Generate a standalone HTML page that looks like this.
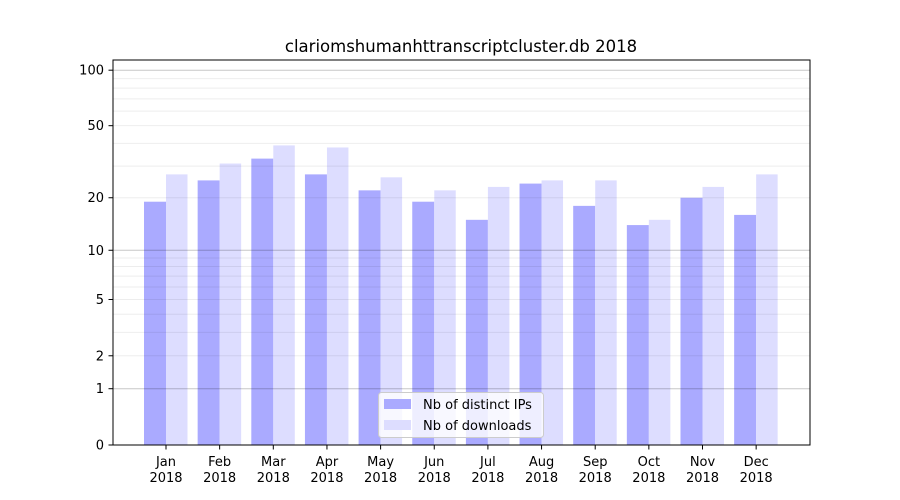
<!DOCTYPE html>
<html><head><meta charset="utf-8"><style>body{margin:0;background:#fff}svg{display:block}text{font-family:"DejaVu Sans","Liberation Sans",sans-serif;font-size:13px;fill:#000}</style></head><body>
<svg width="900" height="500" viewBox="0 0 900 500" xmlns="http://www.w3.org/2000/svg">
<rect width="900" height="500" fill="#fff"/>
<text x="461" y="52" text-anchor="middle" style="font-size:16.5px">clariomshumanhttranscriptcluster.db 2018</text>
<script>
const ns="http://www.w3.org/2000/svg";
const s=document.querySelector('svg');
function el(t,a,txt){const e=document.createElementNS(ns,t);for(const k in a)e.setAttribute(k,a[k]);if(txt!==undefined)e.textContent=txt;s.appendChild(e);return e;}
const Y=v=>445-187*Math.log10(1+v);
const ip=[19,25,33,27,22,19,15,24,18,14,20,16];
const dl=[27,31,39,38,26,22,23,25,25,15,23,27];
const m=["Jan","Feb","Mar","Apr","May","Jun","Jul","Aug","Sep","Oct","Nov","Dec"];
for(let i=0;i<12;i++){const c=166+53.65*i;
el('rect',{x:c-22,y:Y(ip[i]),width:22,height:445-Y(ip[i]),fill:'#aaaaff'});
el('rect',{x:c,y:Y(dl[i]),width:21.5,height:445-Y(dl[i]),fill:'#ddddff'});
el('line',{x1:c,x2:c,y1:445,y2:449.5,stroke:'#000','stroke-width':1});
el('text',{x:c,y:466,'text-anchor':'middle'},m[i]);
el('text',{x:c,y:482,'text-anchor':'middle'},'2018');}
[2,3,4,5,6,7,8,9,20,30,40,50,60,70,80,90].forEach(v=>el('line',{x1:113,x2:810,y1:Y(v),y2:Y(v),stroke:'#000','stroke-opacity':0.07,'stroke-width':1}));
[1,10,100].forEach(v=>el('line',{x1:113,x2:810,y1:Y(v),y2:Y(v),stroke:'#000','stroke-opacity':0.22,'stroke-width':1}));
[0,1,2,5,10,20,50,100].forEach(v=>{const y=Y(v);el('line',{x1:108.5,x2:113,y1:y,y2:y,stroke:'#000'});el('text',{x:104,y:y+4.5,'text-anchor':'end'},v);});
el('rect',{x:113,y:60,width:697,height:385,fill:'none',stroke:'#000','stroke-width':1});
el('rect',{x:378.5,y:392.5,width:165,height:45,rx:3,fill:'#fff','fill-opacity':0.8,stroke:'#ccc'});
el('rect',{x:384,y:399,width:27,height:10,fill:'#aaaaff'});
el('rect',{x:384,y:420,width:27,height:10,fill:'#ddddff'});
el('text',{x:423,y:409},'Nb of distinct IPs');
el('text',{x:423,y:430},'Nb of downloads');
</script>
</svg>
</body></html>
